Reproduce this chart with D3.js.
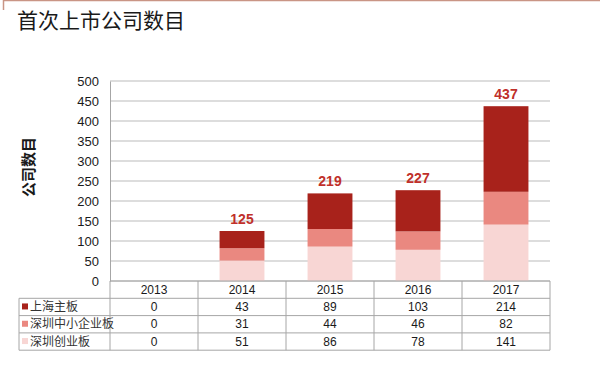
<!DOCTYPE html>
<html>
<head>
<meta charset="utf-8">
<script src="https://cdn.jsdelivr.net/npm/d3@7"></script>
<style>
  body { margin: 0; background: #fff; }
  text { font-family: "Liberation Sans", Arial, sans-serif; }
  .cjk { font-family: "Noto Sans CJK SC", sans-serif; }
</style>
</head>
<body>
<div id="chart"></div>
<script>
// Data
const years = ["2013", "2014", "2015", "2016", "2017"];
const seriesNames = ["上海主板", "深圳中小企业板", "深圳创业板"];
const shanghaiMain = [0, 43, 89, 103, 214];
const shenzhenSme = [0, 31, 44, 46, 82];
const shenzhenChiNext = [0, 51, 86, 78, 141];
const yTicks = [0, 50, 100, 150, 200, 250, 300, 350, 400, 450, 500];

const colors = ["#a8221b", "#ea8880", "#f8d6d4"];
const seriesValues = [shanghaiMain, shenzhenSme, shenzhenChiNext];

const W = 600, H = 386;
const plot = { left: 110, right: 550, top: 81, bottom: 281 };

const svg = d3.select("#chart").append("svg")
    .attr("width", W)
    .attr("height", H);

// decorative frame bits at top left
svg.append("line").attr("x1", 4).attr("x2", W).attr("y1", 0.5).attr("y2", 0.5)
    .attr("stroke", "#c99585").attr("stroke-width", 1.5);
svg.append("line").attr("x1", 3.5).attr("x2", 3.5).attr("y1", 0).attr("y2", 10)
    .attr("stroke", "#c99585").attr("stroke-width", 1.5);

// Title
svg.append("text")
    .attr("class", "cjk")
    .attr("x", 17).attr("y", 28)
    .attr("font-size", 21)
    .attr("fill", "#1a1a1a")
    .text("首次上市公司数目");

// Scales
const x = d3.scaleBand()
    .domain(years)
    .range([plot.left, plot.right])
    .paddingInner(0.49)
    .paddingOuter(0.245);

const y = d3.scaleLinear()
    .domain([0, 500])
    .range([plot.bottom, plot.top]);

// Gridlines
svg.append("g")
    .selectAll("line")
    .data(yTicks)
    .enter().append("line")
    .attr("x1", plot.left).attr("x2", plot.right)
    .attr("y1", d => y(d)).attr("y2", d => y(d))
    .attr("stroke", "#bcbcbc")
    .attr("stroke-width", 1.2);

// Y axis
const yAxis = d3.axisLeft(y).tickValues(yTicks).tickSize(0).tickPadding(11);
const yg = svg.append("g")
    .attr("transform", `translate(${plot.left},0)`)
    .call(yAxis);
yg.select(".domain").attr("stroke", "#a6a6a6");
yg.selectAll("text")
    .attr("font-size", 13)
    .attr("fill", "#1a1a1a")
    .style("font-family", "'Liberation Sans', Arial, sans-serif");

// Y axis title
svg.append("text")
    .attr("class", "cjk")
    .attr("transform", "translate(34,167) rotate(-90)")
    .attr("text-anchor", "middle")
    .attr("font-size", 15)
    .attr("font-weight", "bold")
    .attr("fill", "#1a1a1a")
    .text("公司数目");

// Stacked bars (bottom: 创业板, middle: 中小企业板, top: 主板)
const rows = years.map((yr, i) => ({
    year: yr,
    chinext: shenzhenChiNext[i],
    sme: shenzhenSme[i],
    main: shanghaiMain[i]
}));
const keys = ["chinext", "sme", "main"];
const keyColor = { main: colors[0], sme: colors[1], chinext: colors[2] };
const stacked = d3.stack().keys(keys)(rows);

svg.append("g")
    .selectAll("g")
    .data(stacked)
    .enter().append("g")
    .attr("fill", d => keyColor[d.key])
    .selectAll("rect")
    .data(d => d)
    .enter().append("rect")
    .attr("x", d => x(d.data.year))
    .attr("width", x.bandwidth())
    .attr("y", d => y(d[1]))
    .attr("height", d => y(d[0]) - y(d[1]));

// Totals
svg.append("g")
    .selectAll("text")
    .data(rows.filter(d => d.main + d.sme + d.chinext > 0))
    .enter().append("text")
    .attr("x", d => x(d.year) + x.bandwidth() / 2)
    .attr("y", d => y(d.main + d.sme + d.chinext) - 7)
    .attr("text-anchor", "middle")
    .attr("font-size", 14)
    .attr("font-weight", "bold")
    .attr("fill", "#c0302a")
    .text(d => d.main + d.sme + d.chinext);

// Data table
const rowH = 17.3;
const tableTop = plot.bottom;
const legendLeft = 19;
const step = x.step();
const tg = svg.append("g");
const gridColor = "#a6a6a6";

// horizontal lines
for (let r = 0; r <= 4; r++) {
    const yy = tableTop + r * rowH;
    tg.append("line")
        .attr("x1", r === 0 ? plot.left : legendLeft)
        .attr("x2", plot.right)
        .attr("y1", yy).attr("y2", yy)
        .attr("stroke", gridColor);
}
// vertical lines
tg.append("line")
    .attr("x1", legendLeft).attr("x2", legendLeft)
    .attr("y1", tableTop + rowH).attr("y2", tableTop + 4 * rowH)
    .attr("stroke", gridColor);
for (let c = 0; c <= years.length; c++) {
    const xx = plot.left + c * step;
    tg.append("line")
        .attr("x1", xx).attr("x2", xx)
        .attr("y1", tableTop).attr("y2", tableTop + 4 * rowH)
        .attr("stroke", gridColor);
}
// header
tg.selectAll(".hdr")
    .data(years)
    .enter().append("text")
    .attr("x", d => x(d) + x.bandwidth() / 2)
    .attr("y", tableTop + rowH / 2 + 4)
    .attr("text-anchor", "middle")
    .attr("font-size", 12)
    .attr("fill", "#1a1a1a")
    .text(d => d);

// series rows
seriesNames.forEach((name, r) => {
    const cy = tableTop + (r + 1) * rowH + rowH / 2;
    tg.append("rect")
        .attr("x", 22).attr("y", cy - 3.5)
        .attr("width", 6).attr("height", 6)
        .attr("fill", colors[r]);
    tg.append("text")
        .attr("class", "cjk")
        .attr("x", 30).attr("y", cy + 4)
        .attr("font-size", 12)
        .attr("fill", "#333")
        .text(name);
    tg.selectAll(".v" + r)
        .data(seriesValues[r])
        .enter().append("text")
        .attr("x", (d, i) => x(years[i]) + x.bandwidth() / 2)
        .attr("y", cy + 4)
        .attr("text-anchor", "middle")
        .attr("font-size", 12)
        .attr("fill", "#1a1a1a")
        .text(d => d);
});
</script>
</body>
</html>
